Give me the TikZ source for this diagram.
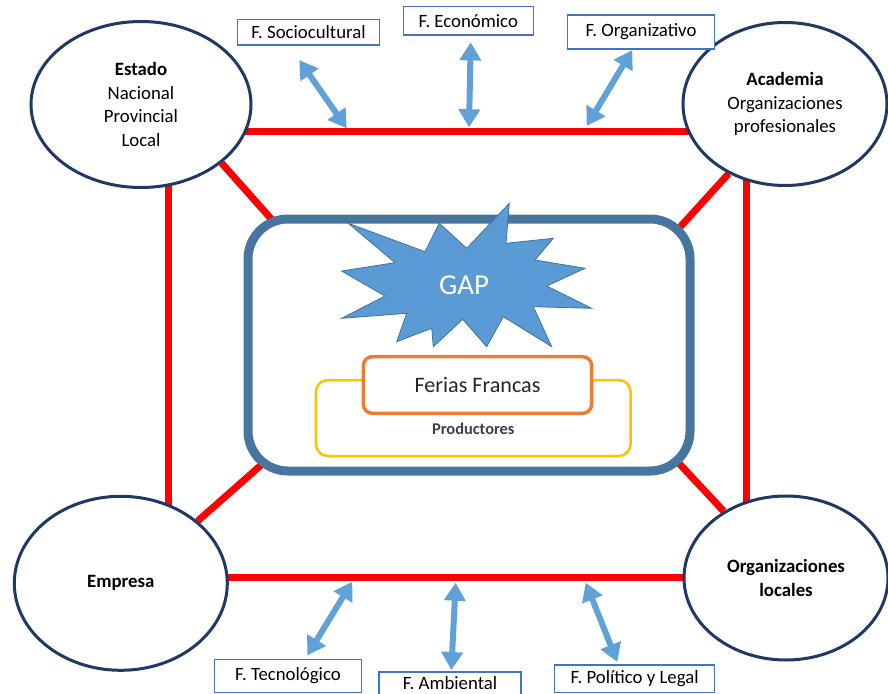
\documentclass[tikz,border=0pt]{standalone}
\usepackage{fontspec}
\setmainfont{Carlito}
\usetikzlibrary{arrows.meta,calc,backgrounds,shapes.geometric}
\definecolor{ovalline}{HTML}{203864}
\definecolor{framecol}{HTML}{48759F}
\definecolor{burstfill}{HTML}{5B9BD5}
\definecolor{burstline}{HTML}{41719C}
\definecolor{arrowblue}{HTML}{5FA1D8}
\definecolor{boxline}{HTML}{4472C4}
\definecolor{ferialine}{HTML}{ED7D31}
\definecolor{prodline}{HTML}{FFC000}
\tikzstyle{actor}=[ellipse,draw=ovalline,line width=3pt,fill=white,align=center,inner sep=0pt,font=\fontsize{18.8}{23.5}\selectfont]
\tikzstyle{redlink}=[draw=red,line width=7pt]
\tikzstyle{factor}=[draw=boxline,line width=1.5pt,fill=white,inner sep=0pt,font=\fontsize{18.8}{22}\selectfont]
\tikzstyle{twoway}=[draw=arrowblue,line width=6pt,arrows={Triangle[width=21pt,length=18pt]-Triangle[width=21pt,length=18pt]}]

\begin{document}
\begin{tikzpicture}[x=1pt,y=-1pt]
    \useasboundingbox (0,0) rectangle (888,693);
    % actors
    \node[actor,minimum width=220pt,minimum height=166pt] (estado) at (141,104.5) {\textbf{Estado}\\Nacional\\Provincial\\Local};
    \node[actor,minimum width=204pt,minimum height=163pt] (academia) at (785,104) {\textbf{Academia}\\Organizaciones\\profesionales};
    \node[actor,minimum width=213pt,minimum height=174pt] (empresa) at (120.8,583.3) {\textbf{Empresa}};
    \node[actor,minimum width=204pt,minimum height=164pt] (orglocal) at (786,578) {\textbf{Organizaciones}\\\textbf{locales}};

    % central frame
    \node[draw=framecol,line width=9pt,fill=white,rounded corners=40pt,minimum width=442pt,minimum height=252pt] (frame) at (469,345) {};

    % red links
    \begin{scope}[on background layer]
    \draw[redlink] ($(estado.center)+(0,27.2)$) -- ($(academia.center)+(0,27.7)$);
    \draw[redlink] ($(empresa.center)+(0,-5.6)$) -- ($(orglocal.center)+(0,-0.3)$);
    \draw[redlink] ($(estado.center)+(27.3,0)$) -- ($(empresa.center)+(47.5,0)$);
    \draw[redlink] ($(academia.center)+(-38.3,0)$) -- ($(orglocal.center)+(-39.3,0)$);
    \draw[redlink] (estado.-36.5) -- ($(frame.north west)+(46.5,25.5)$);
    \draw[redlink] (academia.-129.1) -- ($(frame.north east)+(-33.5,33.5)$);
    \draw[redlink] (empresa.39) -- ($(frame.south west)+(41.5,-31.5)$);
    \draw[redlink] (orglocal.133.1) -- ($(frame.south east)+(-34.5,-32.5)$);
    \end{scope}

    % GAP
    \filldraw[fill=burstfill,draw=burstline,line width=0.8pt] (348.3,223.3) -- (425,251.7) -- (439.3,223.3) -- (466.7,248.3)
      -- (509.3,203.3) -- (506,243.3) -- (553.3,238.3) -- (535,260) -- (585,268.3) -- (546.7,286)
      -- (591.7,308.3) -- (533.3,306.7) -- (551.7,346.7) -- (503.3,316.7) -- (486.7,346.7) -- (462.7,319.3)
      -- (433.3,346.7) -- (431.7,328.3) -- (396.7,341.7) -- (406.7,313.3) -- (341.7,318.3) -- (385,296)
      -- (341.7,271) -- (395,262.7) -- cycle;
    \node[text=white,font=\fontsize{28.9}{30}\selectfont] (gap) at (464,285) {GAP};

    % ferias y productores
    \node[draw=prodline,line width=2.5pt,rounded corners=12pt,minimum width=314.7pt,minimum height=76pt] (prod) at (473.3,418) {};
    \node[draw=ferialine,line width=3.5pt,fill=white,rounded corners=9pt,minimum width=228.4pt,minimum height=56.6pt,font=\fontsize{22.1}{24}\selectfont,text=black!85] (ferias) at (477.5,385) {Ferias Francas};
    \node[font=\bfseries\fontsize{16.4}{18}\selectfont,text=black!75] (prodlabel) at (473.3,429.3) {Productores};

    % factors
    \node[factor,minimum width=141.7pt,minimum height=25.7pt] (socio) at (308.5,32.2) {F. Sociocultural};
    \node[factor,minimum width=130pt,minimum height=28.3pt] (econ) at (468.3,20.8) {F. Económico};
    \node[factor,minimum width=147.3pt,minimum height=34pt] (organ) at (641,32) {F. Organizativo};
    \node[factor,minimum width=147pt,minimum height=33pt] (tecno) at (288,676) {F. Tecnológico};
    \node[factor,minimum width=141.7pt,minimum height=28pt,anchor=north] (ambi) at (450,671) {};
    \node[font=\fontsize{18.8}{22}\selectfont,inner sep=0pt] (ambitext) at (450,683) {F. Ambiental};
    \node[factor,minimum width=160pt,minimum height=27.7pt] (polit) at (634.7,678.8) {F. Político y Legal};

    % arrows
    \coordinate (socioL) at (346.7,128.3);
    \coordinate (econL) at (469,127.3);
    \coordinate (organL) at (586.7,126);
    \coordinate (tecnoL) at (352.3,581.7);
    \coordinate (ambiL) at (455.7,582.7);
    \coordinate (politL) at (585.7,582.7);
    \draw[twoway] ($(socio.south)+(-9.2,14.3)$) -- (socioL);
    \draw[twoway] ($(econ.south)+(2.4,6.7)$) -- (econL);
    \draw[twoway] ($(organ.south)+(-8.7,0.3)$) -- (organL);
    \draw[twoway] ($(tecno.north)+(19.3,-3.3)$) -- (tecnoL);
    \draw[twoway] ($(ambi.north)+(1.3,-1)$) -- (ambiL);
    \draw[twoway] ($(polit.north)+(-17.4,-2.3)$) -- (politL);

  \end{tikzpicture}
\end{document}
